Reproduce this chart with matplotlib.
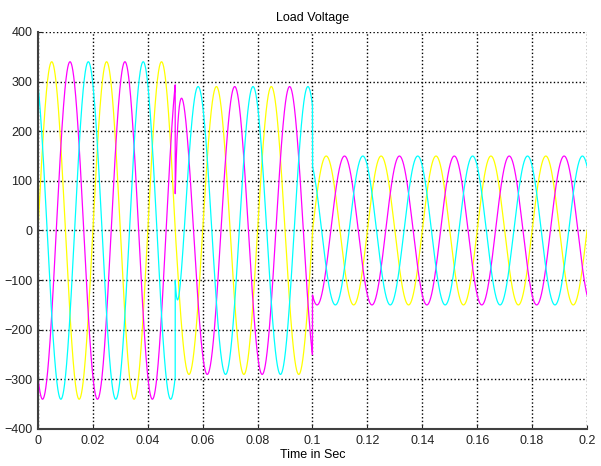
"""Three-phase load voltage with two amplitude steps."""

import numpy as np
from matplotlib import pyplot as plt

plt.rcParams['font.family'] = ['Liberation Sans', 'DejaVu Sans']

# Segment boundaries (s) and peak voltage in each segment
seg_start = [0.0, 0.05, 0.1]
seg_end = [0.05, 0.1, 0.2]
seg_peak = [340, 290, 150]

freq = 50  # Hz
phase_names = ['A', 'B', 'C']
phase_deg = [0, -120, 120]
phase_colors = ['#ffff00', '#ff00ff', '#00ffff']

# Switching transient at t = 0.05 s: initial jump (V) and decay constant (s)
trans_time = 0.05
trans_jump = [0, -177, 150]
tau = 0.001

x_ticks = [0, 0.02, 0.04, 0.06, 0.08, 0.1, 0.12, 0.14, 0.16, 0.18, 0.2]
x_labels = ['0', '0.02', '0.04', '0.06', '0.08', '0.1', '0.12', '0.14', '0.16', '0.18', '0.2']
y_ticks = [-400, -300, -200, -100, 0, 100, 200, 300, 400]

t = np.arange(0, 0.2 + 1e-6, 2e-5)
amp = np.zeros_like(t)
for s, e, p in zip(seg_start, seg_end, seg_peak):
    amp[(t >= s) & (t < e)] = p
amp[t >= seg_end[-1]] = seg_peak[-1]

fig = plt.figure(figsize=(6.01, 4.66), dpi=100)
ax = fig.add_axes([0.0632, 0.0794, 0.9135, 0.852])

dt = t - trans_time
after = dt >= 0
for k in range(3):
    v = amp * np.sin(2 * np.pi * freq * t + np.deg2rad(phase_deg[k]))
    v[after] += trans_jump[k] * np.exp(-dt[after] / tau)
    ax.plot(t, v, color=phase_colors[k], lw=0.9)

ax.set_xlim(0, 0.2)
ax.set_ylim(-400, 400)
ax.set_xticks(x_ticks)
ax.set_xticklabels(x_labels)
ax.set_yticks(y_ticks)
ax.grid(True, color='black', linestyle=':', linewidth=1.0)
ax.tick_params(direction='in', length=3, labelsize=9, colors='#222222', pad=4)
for side in ['top', 'right']:
    ax.spines[side].set_visible(False)
for side in ['left', 'bottom']:
    ax.spines[side].set_color('#404040')
    ax.spines[side].set_linewidth(1.5)

ax.set_title('Load Voltage', fontsize=9, pad=8)
ax.set_xlabel('Time in Sec', fontsize=9, labelpad=2)

fig.savefig('out.png', dpi=100)
